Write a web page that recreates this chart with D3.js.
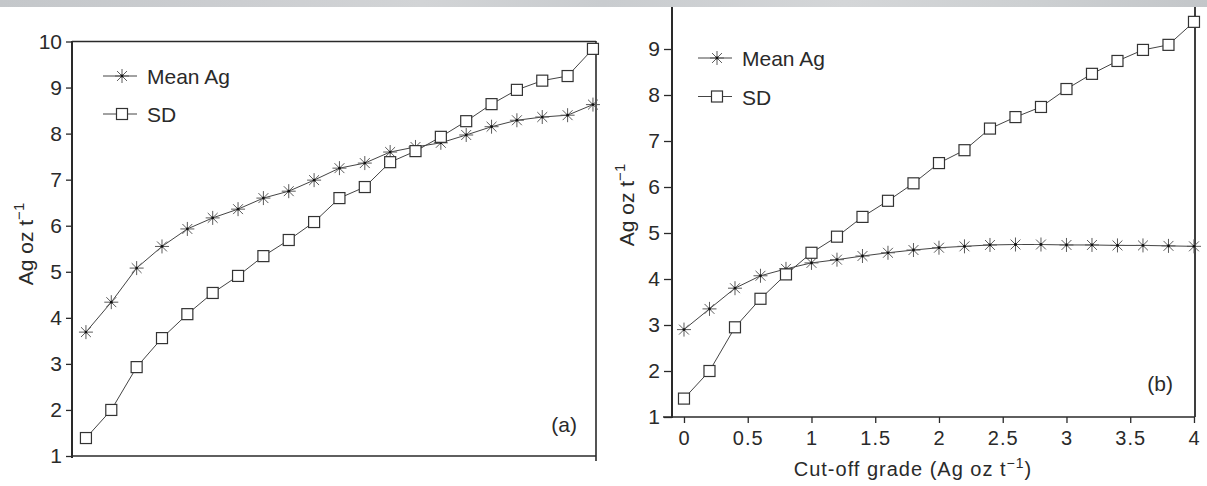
<!DOCTYPE html>
<html><head><meta charset="utf-8">
<script src="https://cdn.jsdelivr.net/npm/d3@7"></script>
<style>
body{margin:0;background:#fff}
svg{display:block}
text{font-family:"Liberation Sans",Arial,Helvetica,sans-serif;fill:#2a2a2a}
</style></head><body>
<svg id="c" width="1207" height="486"></svg>
<script>
// ---- data ----
const cutoff = [0,0.2,0.4,0.6,0.8,1.0,1.2,1.4,1.6,1.8,2.0,2.2,2.4,2.6,2.8,3.0,3.2,3.4,3.6,3.8,4.0];
const seriesNames = ["Mean Ag", "SD"];
const meanA = [3.69,4.34,5.08,5.55,5.93,6.17,6.36,6.6,6.75,6.99,7.25,7.36,7.6,7.71,7.8,7.97,8.15,8.29,8.36,8.4,8.63];
const sdA   = [1.39,2.0,2.93,3.56,4.08,4.54,4.91,5.34,5.69,6.08,6.6,6.84,7.38,7.62,7.93,8.27,8.64,8.95,9.15,9.25,9.84];
const meanB = [2.9,3.35,3.8,4.07,4.22,4.35,4.42,4.5,4.57,4.63,4.68,4.71,4.74,4.75,4.75,4.74,4.74,4.73,4.73,4.72,4.71];
const sdB   = [1.4,2.0,2.95,3.57,4.1,4.57,4.92,5.35,5.7,6.08,6.52,6.8,7.27,7.52,7.74,8.13,8.46,8.74,8.98,9.09,9.59];
const yTicksA = [1,2,3,4,5,6,7,8,9,10];
const yTicksB = [1,2,3,4,5,6,7,8,9];
const xTicksB = [0,0.5,1,1.5,2,2.5,3,3.5,4];
const panelLabels = ["(a)", "(b)"];

const svg = d3.select("#c");
const ink = "#2a2a2a";
const FF = "Liberation Sans, Arial, sans-serif";

function asterisk(g, x, y, r) {
  const s = g.append("g").attr("transform", `translate(${x},${y})`);
  [0, 45, 90, 135].forEach(a => {
    const rad = a * Math.PI / 180;
    s.append("line")
      .attr("x1", -r * Math.cos(rad)).attr("y1", -r * Math.sin(rad))
      .attr("x2", r * Math.cos(rad)).attr("y2", r * Math.sin(rad))
      .attr("stroke", "#5a5a5a").attr("stroke-width", 1);
  });
  s.append("circle").attr("r", 1.4).attr("fill", "#111");
}
function square(g, x, y, s) {
  g.append("rect").attr("x", x - s/2).attr("y", y - s/2).attr("width", s).attr("height", s)
    .attr("fill", "#fff").attr("stroke", "#333").attr("stroke-width", 1.2);
}
function drawSeries(g, xs, ys, xv, yv, kind) {
  const line = d3.line().x((d, i) => xs(xv[i])).y(d => ys(d));
  g.append("path").datum(yv).attr("d", line).attr("fill", "none")
    .attr("stroke", "#444").attr("stroke-width", 1);
  yv.forEach((v, i) => {
    if (kind === 0) asterisk(g, xs(xv[i]), ys(v), 7);
    else square(g, xs(xv[i]), ys(v), 11);
  });
}
function legend(g, cx, y0, dy) {
  seriesNames.forEach((name, k) => {
    const y = y0 + k * dy;
    g.append("line").attr("x1", cx - 19).attr("x2", cx + 15).attr("y1", y).attr("y2", y)
      .attr("stroke", "#444").attr("stroke-width", 1);
    if (k === 0) asterisk(g, cx, y, 7); else square(g, cx, y, 11);
    g.append("text").attr("x", cx + 25).attr("y", y + 8).attr("font-size", 21).text(name);
  });
}
function yTitle(g, x, y) {
  const t = g.append("text").attr("transform", `translate(${x},${y}) rotate(-90)`)
    .attr("text-anchor", "middle").attr("font-size", 21);
  t.append("tspan").text("Ag oz t");
  t.append("tspan").attr("dy", -9).attr("font-size", 15).text("−1");
}

// ---- panel (a) ----
const gA = svg.append("g");
const xA = d3.scaleLinear().domain([-0.11, 4.024]).range([72, 596]);
const yA = d3.scaleLinear().domain([1, 10]).range([456, 41.5]);
const axA = gA.append("g").attr("transform", "translate(72,0)")
  .call(d3.axisLeft(yA).tickValues(yTicksA).tickSize(6).tickPadding(4).tickFormat(d3.format("d")));
axA.select(".domain").remove();
axA.selectAll("text").attr("font-size", 21).attr("fill", ink).attr("font-family", FF);
axA.selectAll("line").attr("stroke", ink).attr("stroke-width", 1.3);
gA.append("line").attr("x1", 72).attr("x2", 72).attr("y1", 41).attr("y2", 458).attr("stroke", ink).attr("stroke-width", 2);
gA.append("line").attr("x1", 72).attr("x2", 596).attr("y1", 41.5).attr("y2", 41.5).attr("stroke", ink).attr("stroke-width", 1.6);
gA.append("line").attr("x1", 72).attr("x2", 596).attr("y1", 456).attr("y2", 456).attr("stroke", ink).attr("stroke-width", 1.6);
gA.append("line").attr("x1", 596).attr("x2", 596).attr("y1", 41).attr("y2", 461).attr("stroke", ink).attr("stroke-width", 1.6);
drawSeries(gA, xA, yA, cutoff, meanA, 0);
drawSeries(gA, xA, yA, cutoff, sdA, 1);
legend(gA, 122, 76, 38);
yTitle(gA, 33, 244);
gA.append("text").attr("x", 577).attr("y", 432).attr("text-anchor", "end").attr("font-size", 21).text(panelLabels[0]);

// ---- panel (b) ----
const gB = svg.append("g");
const xB = d3.scaleLinear().domain([-0.094, 4.008]).range([672, 1195]);
const yB = d3.scaleLinear().domain([1, 9]).range([417, 49]);
const ayB = gB.append("g").attr("transform", "translate(672,0)")
  .call(d3.axisLeft(yB).tickValues(yTicksB).tickSize(8).tickPadding(4).tickFormat(d3.format("d")));
ayB.select(".domain").remove();
ayB.selectAll("text").attr("font-size", 21).attr("fill", ink).attr("font-family", FF);
ayB.selectAll("line").attr("stroke", ink).attr("stroke-width", 1.3);
const axB = gB.append("g").attr("transform", "translate(0,417)")
  .call(d3.axisBottom(xB).tickValues(xTicksB).tickSize(6).tickPadding(8).tickFormat(d => d3.format("")(d)));
axB.select(".domain").remove();
axB.selectAll("text").attr("font-size", 20).attr("fill", ink).attr("letter-spacing", "1px").attr("font-family", FF);
axB.selectAll("line").attr("stroke", ink).attr("stroke-width", 1.3);
gB.append("line").attr("x1", 672).attr("x2", 672).attr("y1", 0).attr("y2", 418).attr("stroke", ink).attr("stroke-width", 2);
gB.append("line").attr("x1", 663).attr("x2", 1195).attr("y1", 417).attr("y2", 417).attr("stroke", ink).attr("stroke-width", 1.6);
gB.append("line").attr("x1", 1195).attr("x2", 1195).attr("y1", 0).attr("y2", 417).attr("stroke", ink).attr("stroke-width", 1.8);
drawSeries(gB, xB, yB, cutoff, meanB, 0);
drawSeries(gB, xB, yB, cutoff, sdB, 1);
legend(gB, 717, 58, 38.5);
yTitle(gB, 634, 205);
const xt = gB.append("text").attr("x", 913).attr("y", 476).attr("text-anchor", "middle")
  .attr("font-size", 20).attr("letter-spacing", "1px");
xt.append("tspan").text("Cut-off grade (Ag oz t");
xt.append("tspan").attr("dy", -8).attr("font-size", 14).text("−1");
xt.append("tspan").attr("dy", 8).text(")");
gB.append("text").attr("x", 1173).attr("y", 391).attr("text-anchor", "end").attr("font-size", 21).text(panelLabels[1]);

// ---- scanned top band ----
const defs = svg.append("defs");
const grad = defs.append("linearGradient").attr("id", "band");
[[0,"#c4c7ca"],[0.2,"#ccced1"],[0.35,"#d2d4d6"],[0.5,"#c9cccf"],[0.7,"#d4d6d8"],[0.85,"#cdd0d2"],[1,"#c3c6c9"]]
  .forEach(([o,c]) => grad.append("stop").attr("offset", o).attr("stop-color", c));
svg.append("rect").attr("x", 0).attr("y", 0).attr("width", 1207).attr("height", 7).attr("fill", "url(#band)");
</script>
</body></html>
